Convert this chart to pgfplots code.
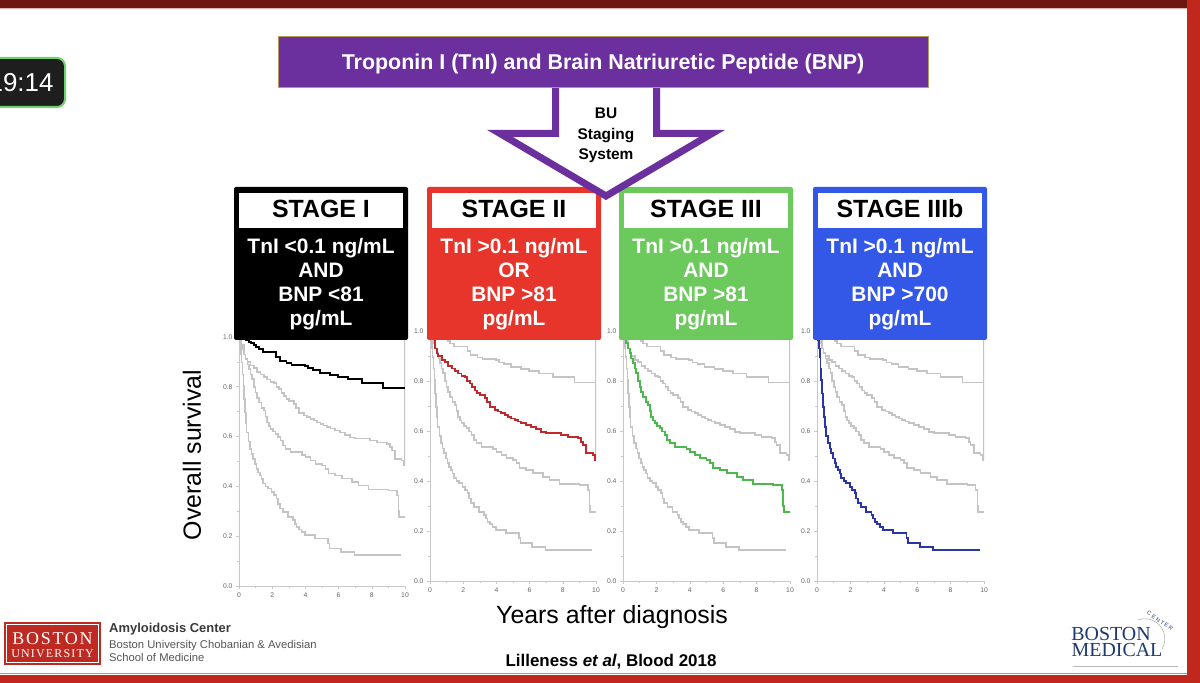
\documentclass[border=0pt]{standalone}
\usepackage{fontspec}
\setmainfont{Liberation Sans}
\newfontfamily\serifbu[LetterSpace=10]{Liberation Serif}
\newfontfamily\serifbmc{Liberation Serif}
\usepackage{pgfplots}
\pgfplotsset{compat=1.18}
\usepackage{pgfplotstable}

\definecolor{stpurple}{HTML}{6B2F9E}
\definecolor{stred}{HTML}{E8352B}
\definecolor{stgreen}{HTML}{6CC95C}
\definecolor{stblue}{HTML}{3358E8}
\definecolor{hlred}{HTML}{C0282D}
\definecolor{hlgreen}{HTML}{4DB84D}
\definecolor{hlblue}{HTML}{2B35A5}
\definecolor{curvegrey}{HTML}{C4C4C4}
\definecolor{axgrey}{HTML}{C8C8C8}
\definecolor{tickgrey}{HTML}{666666}
\definecolor{bured}{HTML}{BE2A22}
\definecolor{navy}{HTML}{1E3A6E}
\definecolor{topband}{HTML}{6E1610}
\definecolor{pinkline}{HTML}{E8B0A8}
\definecolor{frred}{HTML}{C0281E}
\definecolor{midgrey}{HTML}{9A9A9A}
\definecolor{timerbg}{HTML}{1E1E1E}
\definecolor{timergreen}{HTML}{6BD46B}
\definecolor{tan}{HTML}{B89A5A}
\definecolor{dgrey}{HTML}{3A3A3A}
\definecolor{mgrey}{HTML}{555555}
\definecolor{lgrey}{HTML}{BBBBBB}
\definecolor{lgrey2}{HTML}{AAAAAA}

\newcommand{\fs}[1]{\fontsize{#1}{#1}\selectfont}

\pgfplotstableread{
x y
0 1.0
0.2 0.995
0.44 0.988
0.6 0.98
0.74 0.975
0.9 0.968
1.05 0.961
1.2 0.95
1.45 0.938
2.25 0.921
2.45 0.905
2.86 0.894
3.16 0.887
3.96 0.883
4.16 0.874
4.47 0.867
4.87 0.857
5.47 0.847
5.98 0.84
6.58 0.83
7.4 0.816
8.7 0.794
10 0.794
}\stageI

\pgfplotstableread{
x y
0 1.0
0.15 0.97
0.3 0.93
0.4 0.91
0.5 0.9
0.7 0.885
0.9 0.875
1.1 0.86
1.3 0.85
1.5 0.84
1.7 0.83
1.9 0.82
2.1 0.815
2.25 0.8
2.4 0.79
2.55 0.775
2.7 0.762
2.85 0.752
3.0 0.744
3.3 0.731
3.45 0.715
3.6 0.695
3.9 0.684
4.1 0.678
4.3 0.671
4.5 0.665
4.7 0.657
4.9 0.65
5.1 0.644
5.3 0.638
5.5 0.633
5.8 0.625
6.1 0.617
6.4 0.607
6.7 0.597
7.0 0.592
7.9 0.585
8.3 0.577
8.9 0.571
9.1 0.557
9.2 0.544
9.4 0.511
9.8 0.504
9.95 0.484
10 0.484
}\stageII

\pgfplotstableread{
x y
0 1.0
0.1 0.97
0.2 0.951
0.3 0.93
0.4 0.911
0.5 0.89
0.6 0.871
0.7 0.85
0.8 0.831
0.9 0.8
1.0 0.777
1.1 0.755
1.2 0.737
1.35 0.715
1.5 0.704
1.6 0.68
1.7 0.657
1.8 0.642
1.9 0.631
2.05 0.62
2.2 0.611
2.35 0.598
2.5 0.584
2.65 0.565
2.8 0.551
3.1 0.537
3.8 0.527
4.0 0.517
4.3 0.504
4.6 0.491
5.0 0.484
5.2 0.471
5.4 0.451
5.8 0.444
6.2 0.431
6.8 0.417
7.2 0.404
7.8 0.388
9.0 0.384
9.5 0.364
9.6 0.3
9.65 0.277
10 0.273
}\stageIII

\pgfplotstableread{
x y
0 1.0
0.06 0.964
0.11 0.93
0.16 0.897
0.21 0.85
0.26 0.804
0.31 0.75
0.36 0.697
0.41 0.655
0.46 0.617
0.56 0.58
0.66 0.551
0.76 0.53
0.86 0.511
0.96 0.49
1.06 0.471
1.16 0.455
1.26 0.444
1.36 0.43
1.46 0.411
1.6 0.4
1.76 0.391
1.96 0.377
2.1 0.365
2.26 0.351
2.36 0.33
2.46 0.311
2.66 0.297
2.96 0.277
3.26 0.264
3.36 0.25
3.46 0.237
3.6 0.227
3.76 0.217
3.96 0.204
4.56 0.191
5.36 0.171
5.46 0.151
6.16 0.137
6.96 0.124
9.72 0.121
}\stageIIIb

\pgfplotstableread{
x y
10 1.0
10 0.484
}\edgeline

\pgfplotsset{
  km/.style={
    scale only axis, anchor=south west,
    xmin=0, xmax=10, ymin=0, ymax=1,
    axis lines*=left,
    axis line style={draw=axgrey, line width=0.9bp},
    xtick={0,2,4,6,8,10}, ytick={0,0.2,0.4,0.6,0.8,1},
    minor xtick={1,3,5,7,9}, minor ytick={0.1,0.3,0.5,0.7,0.9},
    tick align=outside, major tick length=3bp, minor tick length=2bp,
    tick style={draw=axgrey, line width=0.6bp},
    tick label style={font=\fs{6.8}, text=tickgrey},
    /pgf/number format/assume math mode=true,
    yticklabel style={/pgf/number format/.cd, fixed, fixed zerofill, precision=1, assume math mode=true},
    xticklabel style={/pgf/number format/.cd, assume math mode=true},
  },
  greyc/.style={const plot, draw=curvegrey, line width=1.6bp, no marks},
  hlc/.style={const plot, draw=#1, line width=1.9bp, no marks},
}

\newcommand{\stagebox}[5]{%
  \fill[#3, rounded corners=2bp] (#1,343) rectangle (#2,496);
  \fill[white] ({#1+5},455) rectangle ({#2-5},490);
  \node[font=\bfseries\fs{25}, anchor=base] at ({(#1+#2)/2},465) {#4};
  \node[font=\bfseries\fs{21}, text=white, anchor=base] at ({(#1+#2)/2},429) {TnI #5};
}
\newcommand{\stagelines}[4]{%
  \node[font=\bfseries\fs{21}, text=white, anchor=base] at (#1,405) {#2};
  \node[font=\bfseries\fs{21}, text=white, anchor=base] at (#1,381) {#3};
  \node[font=\bfseries\fs{21}, text=white, anchor=base] at (#1,357) {#4};
}

\begin{document}
\begin{tikzpicture}[x=1bp,y=1bp]
\useasboundingbox (0,0) rectangle (1200,683);
\clip (0,0) rectangle (1200,683);
\fill[white] (0,0) rectangle (1200,683);

% frame bands
\fill[topband] (0,675) rectangle (1200,683);
\fill[pinkline] (0,674) rectangle (1200,675);
\fill[frred] (1187,0) rectangle (1200,683);
\fill[frred] (0,0) rectangle (1200,8);
\draw[midgrey, line width=0.8bp] (0,9.5) -- (1187,9.5);

% timer
\draw[fill=timerbg, draw=timergreen, line width=2bp, rounded corners=8bp] (-20,576) rectangle (65,625);
\node[font=\fs{26}, text=white, anchor=base east] at (57,591) {19:14};

% ---- KM panels ----
\begin{axis}[km, at={(239bp,97bp)}, width=166bp, height=249bp]
  \addplot[greyc] table {\edgeline};
  \addplot[greyc] table {\stageII};
  \addplot[greyc] table {\stageIII};
  \addplot[greyc] table {\stageIIIb};
  \addplot[hlc=black] table {\stageI};
\end{axis}
\begin{axis}[km, at={(430bp,102bp)}, width=166bp, height=250bp]
  \addplot[greyc] table {\edgeline};
  \addplot[greyc] table {\stageI};
  \addplot[greyc] table {\stageIII};
  \addplot[greyc] table {\stageIIIb};
  \addplot[hlc=hlred] table {\stageII};
\end{axis}
\begin{axis}[km, at={(623bp,102bp)}, width=167bp, height=250bp]
  \addplot[greyc] table {\edgeline};
  \addplot[greyc] table {\stageI};
  \addplot[greyc] table {\stageII};
  \addplot[greyc] table {\stageIIIb};
  \addplot[hlc=hlgreen] table {\stageIII};
\end{axis}
\begin{axis}[km, at={(817bp,102bp)}, width=167bp, height=250bp]
  \addplot[greyc] table {\edgeline};
  \addplot[greyc] table {\stageI};
  \addplot[greyc] table {\stageII};
  \addplot[greyc] table {\stageIII};
  \addplot[hlc=hlblue] table {\stageIIIb};
\end{axis}

% axis titles
\node[font=\fs{25}, rotate=90] at (192,228) {Overall survival};
\node[font=\fs{25}, anchor=base] at (612,59) {Years after diagnosis};
\node[font=\bfseries\fs{17}, anchor=base] at (611,16) {Lilleness \textit{et al}, Blood 2018};

% ---- stage boxes ----
\stagebox{234}{408}{black}{STAGE I}{<0.1 ng/mL}
\stagelines{321}{AND}{BNP <81}{pg/mL}
\stagebox{427}{601}{stred}{STAGE II}{>0.1 ng/mL}
\stagelines{514}{OR}{BNP >81}{pg/mL}
\stagebox{619}{793}{stgreen}{STAGE III}{>0.1 ng/mL}
\stagelines{706}{AND}{BNP >81}{pg/mL}
\stagebox{813}{987}{stblue}{STAGE IIIb}{>0.1 ng/mL}
\stagelines{900}{AND}{BNP >700}{pg/mL}

% ---- arrow ----
\draw[fill=white, draw=stpurple, line width=7bp, line join=miter]
  (555.5,597) -- (555.5,549.5) -- (500,549.5) -- (606,487) -- (712,549.5) -- (656.5,549.5) -- (656.5,597);
\node[font=\bfseries\fs{15.5}, anchor=base] at (606,564) {BU};
\node[font=\bfseries\fs{15.5}, anchor=base] at (606,543) {Staging};
\node[font=\bfseries\fs{15.5}, anchor=base] at (606,523) {System};

% ---- title box ----
\draw[fill=stpurple, draw=tan, line width=1bp] (278,595) rectangle (928,646);
\node[font=\bfseries\fs{21.5}, text=white, anchor=base] at (603,613) {Troponin I (TnI) and Brain Natriuretic Peptide (BNP)};

% ---- BU logo ----
\fill[bured] (4,18) rectangle (101,61);
\draw[white, line width=0.6bp] (6.5,20.5) rectangle (98.5,58.5);
\node[font=\serifbu\fs{18}, text=white, anchor=base] at (52.5,38) {BOSTON};
\node[font=\serifbu\fs{12}, text=white, anchor=base] at (52.5,25) {UNIVERSITY};
\node[font=\bfseries\fs{13}, text=dgrey, anchor=base west, inner sep=0] at (109,50) {Amyloidosis Center};
\node[font=\fs{11.3}, text=mgrey, anchor=base west, inner sep=0] at (109,34) {Boston University Chobanian \& Avedisian};
\node[font=\fs{11.3}, text=mgrey, anchor=base west, inner sep=0] at (109,21) {School of Medicine};

% ---- Boston Medical logo ----
\draw[lgrey, line width=0.6bp] (1073,17) -- (1178,17);
\draw[lgrey2, line width=0.5bp] (1138,63) arc[start angle=110, end angle=-30, radius=20];
\node[font=\serifbmc\fs{20}, text=navy, anchor=base, inner sep=0] at (1111,42) {BOSTON};
\node[font=\serifbmc\fs{20}, text=navy, anchor=base, inner sep=0] at (1117,26) {MEDICAL};
\node[font=\fs{5.5}, text=navy, rotate=-35] at (1160,62) {C E N T E R};
\end{tikzpicture}
\end{document}
